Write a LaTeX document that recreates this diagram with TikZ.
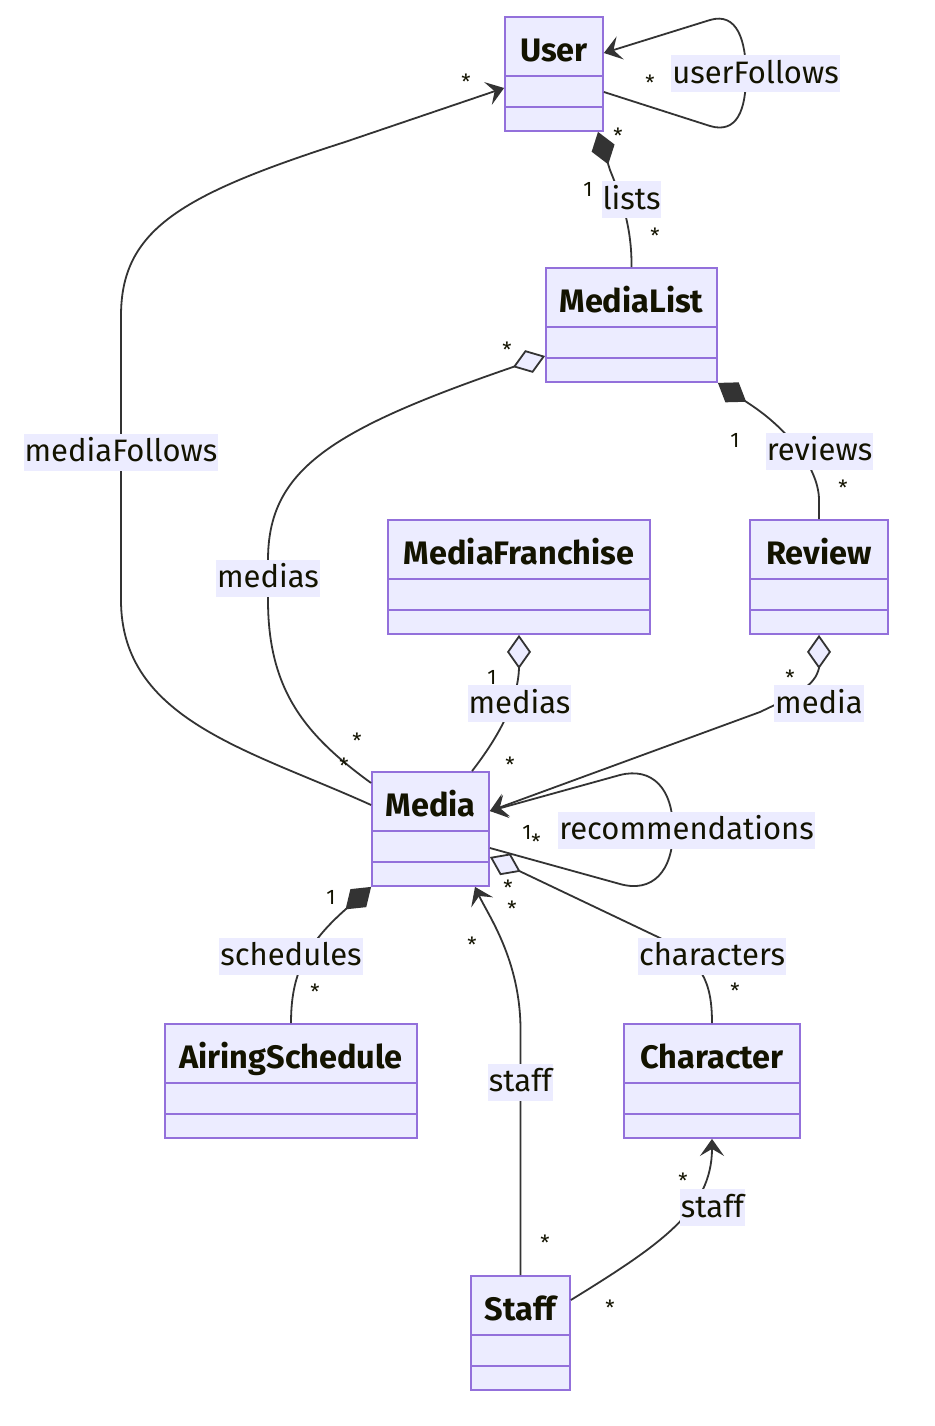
\documentclass[tikz,border=0pt]{standalone}
\usepackage{fontspec}
\setmainfont{Fira Sans}
\usetikzlibrary{arrows.meta}
\definecolor{clsfill}{HTML}{ECECFF}
\definecolor{clsdraw}{HTML}{9370DB}
\definecolor{edgec}{HTML}{333333}
\definecolor{txtc}{HTML}{131300}
\begin{document}
\begin{tikzpicture}[x=1pt,y=-1pt,
  cls/.style={draw=clsdraw, fill=clsfill, line width=1.8pt, inner sep=0pt, rectangle, minimum height=114pt},
  ttl/.style={anchor=base, font=\fontsize{32.5}{38}\selectfont\bfseries, text=txtc, inner sep=0pt},
  div/.style={draw=clsdraw, line width=1.8pt},
  rel/.style={draw=edgec, line width=1.8pt},
  lbl/.style={fill=clsfill, text=txtc, font=\fontsize{31}{37}\selectfont, inner xsep=1pt, inner ysep=0pt, text height=24.5pt, text depth=5pt, minimum height=37pt},
  card/.style={text=txtc, font=\fontsize{21}{23}\selectfont, inner sep=0pt},
  starc/.style={card, yshift=-3pt},
  myvee/.tip={Stealth[length=17pt,width=24pt,inset=7pt]},
  odia/.tip={Diamond[length=34pt,width=24pt,fill=clsfill]},
  fdia/.tip={Diamond[length=34pt,width=24pt]}
]
\useasboundingbox (0,0) rectangle (934,1426);
\fill[white] (0,0) rectangle (934,1426);

% classes
\node[cls, minimum width=98pt]  (user)   at (554,74)    {};
\node[cls, minimum width=171pt] (mlist)  at (631.5,325) {};
\node[cls, minimum width=262pt] (mfr)    at (519,577)   {};
\node[cls, minimum width=138pt] (review) at (819,577)   {};
\node[cls, minimum width=117pt] (media)  at (430.5,829) {};
\node[cls, minimum width=252pt] (airing) at (291,1081)  {};
\node[cls, minimum width=176pt] (char)   at (712,1081)  {};
\node[cls, minimum width=99pt]  (staff)  at (520.5,1333) {};

\foreach \n in {user,mlist,mfr,review,media,airing,char,staff}{
  \draw[div] ([yshift=-60pt]\n.north west) -- ([yshift=-60pt]\n.north east);
  \draw[div] ([yshift=-91pt]\n.north west) -- ([yshift=-91pt]\n.north east);
}
\node[ttl] (t-user)   at ([yshift=-45pt]user.north)   {User};
\node[ttl] (t-mlist)  at ([yshift=-45pt]mlist.north)  {MediaList};
\node[ttl] (t-mfr)    at ([yshift=-45pt]mfr.north)    {MediaFranchise};
\node[ttl] (t-review) at ([yshift=-45pt]review.north) {Review};
\node[ttl] (t-media)  at ([yshift=-45pt]media.north)  {Media};
\node[ttl] (t-airing) at ([yshift=-45pt]airing.north) {AiringSchedule};
\node[ttl] (t-char)   at ([yshift=-45pt]char.north)   {Character};
\node[ttl] (t-staff)  at ([yshift=-45pt]staff.north)  {Staff};

% relations
\draw[rel, -myvee] ([yshift=24pt]media.west) .. controls (250,750) and (121,720) .. (121,600)
   -- (121,316) .. controls (121,230) and (180,195) .. (345,142) -- ([yshift=-14pt]user.west);
\draw[rel, -myvee] ([yshift=-18pt]user.east) -- (710,126) .. controls (737,134) and (746,110) .. (746,75)
   .. controls (746,40) and (737,12) .. (710,20) -- ([yshift=21pt]user.east);
\draw[rel, -fdia] (mlist.north) .. controls (632,225) and (620,195) .. (610,170) -- ([xshift=44pt]user.south);
\draw[rel, -odia] ([yshift=46pt]media.west) .. controls (305,735) and (268,690) .. (268,600)
   -- (268,560) .. controls (268,470) and (330,430) .. (513,367) -- ([yshift=-31pt]mlist.west);
\draw[rel, -fdia] (review.north) -- (819,500) .. controls (819,470) and (790,430) .. (748,403) -- (mlist.south east);
\draw[rel, odia-] (mfr.south) -- (519,668) .. controls (518,700) and (500,735) .. ([xshift=41.5pt]media.north);
\draw[rel, odia-myvee] (review.south) -- (819,668) .. controls (815,685) and (800,693) .. (760,712) -- ([yshift=18pt]media.east);
\draw[rel, -myvee] ([yshift=-19pt]media.east) -- (620,884) .. controls (652,893) and (673,872) .. (673,830)
   .. controls (673,788) and (652,767) .. (620,775) -- ([yshift=18pt]media.east);
\draw[rel, -odia] (char.north) .. controls (712,982) and (702,960) .. (660,938) -- ([yshift=-28pt]media.east);
\draw[rel, -fdia] (airing.north) .. controls (291,975) and (305,945) .. (media.south west);
\draw[rel, -myvee] (staff.north) -- (520.5,1030) .. controls (520.5,960) and (488,915) .. ([xshift=44.5pt]media.south);
\draw[rel, -myvee] ([yshift=33pt]staff.east) .. controls (660,1245) and (712,1210) .. (char.south);

% edge labels
\node[lbl] (l-uf)  at (755.5,73.5)  {userFollows};
\node[lbl] (l-mf)  at (121,452)     {mediaFollows};
\node[lbl] (l-li)  at (631.5,199.5) {lists};
\node[lbl] (l-me1) at (268,578)     {medias};
\node[lbl] (l-rv)  at (819.5,451)   {reviews};
\node[lbl] (l-me2) at (519.5,703.5) {medias};
\node[lbl] (l-md)  at (819,703.5)   {media};
\node[lbl] (l-rc)  at (686.5,830)   {recommendations};
\node[lbl] (l-sc)  at (291,956)     {schedules};
\node[lbl] (l-ch)  at (712,956)     {characters};
\node[lbl] (l-st1) at (520.5,1082)  {staff};
\node[lbl] (l-st2) at (712.5,1207.5) {staff};

% cardinalities
\node[starc] (c1)  at (466,79)  {*};
\node[starc] (c2)  at (344,763) {*};
\node[starc] (c3)  at (650,80)  {*};
\node[card]  (c4)  at (588,189) {1};
\node[starc] (c5)  at (618,133) {*};
\node[starc] (c6)  at (655,233) {*};
\node[starc] (c7)  at (507,347) {*};
\node[starc] (c8)  at (357,738) {*};
\node[card]  (c9)  at (735,440) {1};
\node[starc] (c10) at (843,485) {*};
\node[card]  (c11) at (492,677) {1};
\node[starc] (c12) at (510,762) {*};
\node[starc] (c13) at (790,675) {*};
\node[card]  (c14) at (527,832) {1};
\node[starc] (c15) at (536,839) {*};
\node[starc] (c16) at (508,885) {*};
\node[starc] (c17) at (512,906) {*};
\node[starc] (c18) at (735,988) {*};
\node[card]  (c19) at (331,897) {1};
\node[starc] (c20) at (315,989) {*};
\node[starc] (c21) at (472,942) {*};
\node[starc] (c22) at (545,1240) {*};
\node[starc] (c23) at (683,1178) {*};
\node[starc] (c24) at (610,1305) {*};
\end{tikzpicture}
\end{document}
